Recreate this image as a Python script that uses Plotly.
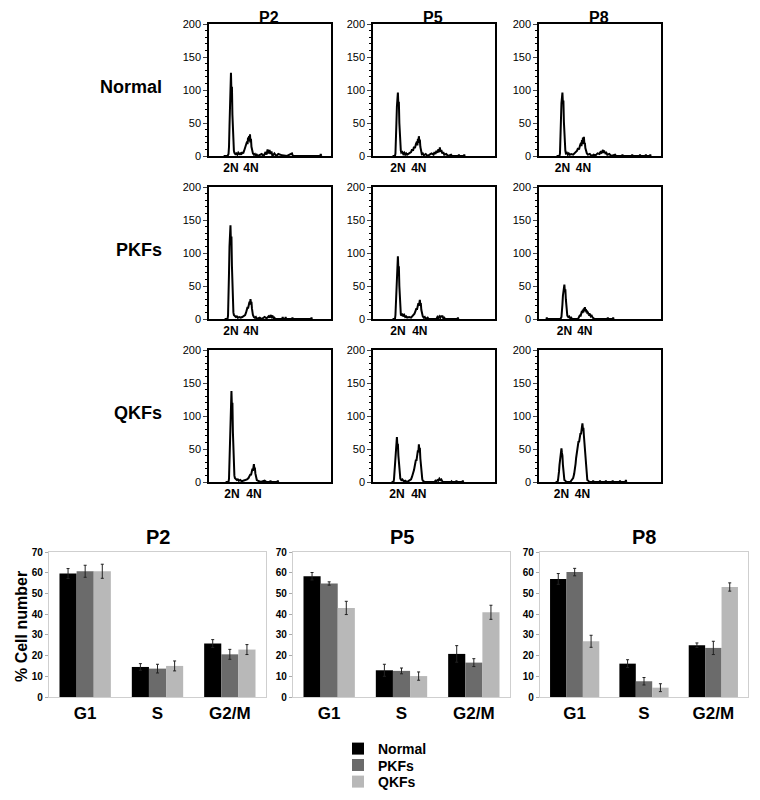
import plotly.graph_objects as go

# The page body has an 8 px default margin, so the figure is 752x792 and
# all screen positions below are converted by subtracting that offset.
OFF = 8
W, H = 760 - OFF, 800 - OFF

# ---------------- DATA ----------------
PASSAGES = ["P2", "P5", "P8"]
CELL_LINES = ["Normal", "PKFs", "QKFs"]
PHASES = ["G1", "S", "G2/M"]

# Flow-cytometry DNA histograms: (channel, count) pairs
NORMAL_P2 = [(30,0),(38,0),(40,3),(41,14),(42,45),(43,92),(44,100),(45,126),(46,96),(47,105),(48,62),(49,30),(50,14),(51,8),(52,5),(54,3),(56,4),(58,2),(60,5),(62,3),(64,4),(66,2),(68,6),(70,4),(72,8),(74,12),(76,16),(78,22),(79,18),(80,28),(81,22),(82,30),(83,25),(84,33),(85,20),(86,26),(87,14),(88,10),(89,6),(90,4),(92,2),(94,3),(96,0),(98,2),(100,0),(108,3),(112,0),(116,6),(118,2),(120,10),(122,4),(124,9),(126,3),(128,7),(130,0),(134,4),(138,0),(142,3),(150,1),(160,0),(170,4),(172,0),(228,0),(229,3),(230,0)]
NORMAL_P5 = [(40,0),(45,0),(46,4),(47,18),(48,50),(49,75),(50,85),(51,96),(52,78),(53,82),(54,50),(55,28),(56,14),(57,8),(58,5),(60,6),(62,3),(64,5),(66,2),(68,4),(70,2),(74,4),(78,6),(80,10),(82,8),(84,14),(86,12),(88,18),(90,22),(91,16),(92,26),(93,20),(94,30),(95,22),(96,25),(97,14),(98,10),(99,6),(100,3),(102,4),(104,1),(108,3),(112,0),(116,2),(120,4),(124,2),(126,6),(128,3),(130,8),(132,5),(134,10),(136,6),(137,13),(138,7),(140,9),(142,4),(144,6),(146,2),(150,3),(154,0),(160,2),(162,0),(175,0),(176,2),(177,0),(186,0),(187,2),(188,0)]
NORMAL_P8 = [(36,0),(42,0),(43,4),(44,20),(45,55),(46,80),(47,88),(48,96),(49,80),(50,84),(51,52),(52,28),(53,14),(54,8),(55,4),(57,5),(59,2),(61,4),(63,2),(66,3),(70,2),(74,5),(78,8),(80,12),(82,10),(84,16),(86,20),(87,15),(88,24),(89,18),(90,28),(91,22),(92,29),(93,18),(94,20),(95,12),(96,8),(98,4),(100,2),(104,3),(108,0),(112,2),(116,1),(120,4),(124,3),(126,6),(128,5),(130,8),(131,9),(132,6),(134,7),(136,4),(138,5),(140,2),(144,3),(148,0),(156,2),(158,0),(170,0),(171,2),(172,0),(190,0),(191,2),(192,0),(206,0),(207,2),(208,0),(218,0),(219,2),(220,0),(227,0),(228,2),(229,0)]
PKFS_P2 = [(32,0),(38,0),(39,5),(40,25),(41,70),(42,110),(43,120),(44,142),(45,115),(46,125),(47,80),(48,40),(49,18),(50,10),(51,6),(53,4),(55,3),(57,4),(59,2),(62,3),(65,2),(68,3),(71,4),(74,6),(76,10),(78,14),(79,18),(80,16),(81,22),(82,20),(83,26),(84,22),(85,30),(86,24),(87,26),(88,16),(89,10),(90,6),(92,3),(94,2),(96,3),(98,0),(104,2),(108,0),(114,3),(118,1),(122,4),(124,2),(126,6),(128,3),(130,5),(132,1),(134,2),(136,0),(150,0),(151,3),(152,0),(156,0),(157,3),(158,0),(170,0),(171,2),(172,0),(209,0),(210,2),(211,0)]
PKFS_P5 = [(40,0),(45,0),(46,6),(47,22),(48,55),(49,78),(50,84),(51,95),(52,76),(53,80),(54,50),(55,26),(56,12),(57,7),(58,5),(60,8),(62,4),(64,6),(66,3),(68,4),(70,2),(74,3),(78,2),(82,5),(85,8),(87,12),(89,16),(90,14),(91,20),(92,18),(93,24),(94,20),(95,26),(96,29),(97,22),(98,24),(99,14),(100,10),(101,6),(102,4),(104,2),(106,3),(108,0),(112,2),(114,0),(130,0),(132,3),(134,1),(136,4),(138,2),(140,5),(141,3),(142,5),(144,1),(146,2),(148,0),(173,0),(174,2),(175,0)]
PKFS_P8 = [(15,0),(16,2),(17,0),(44,0),(46,3),(47,10),(48,22),(49,35),(50,44),(51,40),(52,52),(53,42),(54,45),(55,30),(56,18),(57,10),(58,5),(60,3),(62,4),(64,1),(66,2),(68,0),(80,0),(82,3),(84,6),(85,4),(86,9),(87,7),(88,12),(89,9),(90,14),(91,10),(92,16),(93,12),(94,18),(95,13),(96,15),(97,10),(98,13),(99,8),(100,11),(101,7),(102,9),(103,5),(104,8),(106,4),(108,5),(110,2),(112,1),(114,0),(140,0),(141,2),(142,0),(151,0),(152,2),(153,0)]
QKFS_P2 = [(34,0),(40,0),(41,5),(42,30),(43,75),(44,110),(45,118),(46,138),(47,112),(48,120),(49,75),(50,38),(51,18),(52,10),(53,6),(55,4),(57,3),(59,4),(61,2),(64,3),(67,1),(70,2),(74,3),(78,4),(81,6),(83,9),(85,12),(86,10),(87,16),(88,14),(89,20),(90,17),(91,24),(92,27),(93,20),(94,22),(95,13),(96,8),(97,5),(98,3),(100,2),(102,1),(106,0),(114,2),(118,0),(125,0),(126,2),(127,0),(140,0),(141,2),(142,0)]
QKFS_P5 = [(38,0),(42,0),(43,4),(44,14),(45,30),(46,45),(47,55),(48,60),(49,68),(50,55),(51,58),(52,40),(53,26),(54,14),(55,8),(56,5),(58,3),(60,4),(62,2),(64,1),(66,2),(70,0),(74,2),(78,4),(80,8),(82,12),(84,18),(85,22),(86,28),(87,26),(88,34),(89,32),(90,40),(91,38),(92,48),(93,45),(94,57),(95,48),(96,52),(97,36),(98,24),(99,14),(100,8),(101,4),(102,2),(104,1),(106,0),(126,0),(128,2),(130,1),(132,3),(134,2),(136,5),(138,3),(140,4),(142,1),(144,0),(160,0),(161,1),(162,0),(170,0),(171,2),(172,0),(183,0),(184,2),(185,0)]
QKFS_P8 = [(34,0),(38,0),(39,3),(40,8),(41,16),(42,26),(43,34),(44,42),(45,46),(46,51),(47,44),(48,40),(49,26),(50,14),(51,7),(52,3),(54,2),(56,0),(64,0),(66,2),(68,3),(70,6),(72,12),(73,16),(74,22),(75,28),(76,36),(77,42),(78,50),(79,54),(80,58),(81,62),(82,60),(83,68),(84,66),(85,74),(86,72),(87,80),(88,76),(89,89),(90,80),(91,82),(92,70),(93,60),(94,45),(95,32),(96,20),(97,12),(98,6),(99,3),(101,2),(103,0),(110,0),(111,2),(112,0),(124,0),(125,2),(126,0),(136,0),(137,2),(138,0),(150,0),(151,2),(152,0),(165,0),(166,2),(167,0),(177,0),(178,3),(179,0)]

HISTOGRAMS = [[NORMAL_P2, NORMAL_P5, NORMAL_P8],
              [PKFS_P2, PKFS_P5, PKFS_P8],
              [QKFS_P2, QKFS_P5, QKFS_P8]]
# positions of 2N / 4N labels (channel) per row/column
PEAKS_2N_4N = [[(45, 86), (51, 94), (48, 91)],
               [(45, 86), (51, 96), (52, 94)],
               [(47, 92), (49, 94), (46, 89)]]
HIST_YTICKS = [0, 50, 100, 150, 200]

# Bar chart: % cell number per phase
BAR_VALUES = {
    "P2": {"Normal": [59.6, 14.5, 25.8], "PKFs": [60.7, 13.7, 20.6], "QKFs": [60.7, 15.0, 22.9]},
    "P5": {"Normal": [58.3, 12.9, 20.8], "PKFs": [54.8, 12.6, 16.6], "QKFs": [43.0, 10.1, 40.9]},
    "P8": {"Normal": [57.0, 16.1, 25.0], "PKFs": [60.3, 7.6, 23.7], "QKFs": [26.9, 4.5, 53.1]},
}
BAR_ERRORS = {
    "P2": {"Normal": [2.4, 1.6, 1.9], "PKFs": [2.9, 2.1, 2.4], "QKFs": [3.4, 2.4, 2.4]},
    "P5": {"Normal": [1.8, 2.9, 4.0], "PKFs": [0.8, 1.4, 1.9], "QKFs": [3.2, 2.0, 3.4]},
    "P8": {"Normal": [2.6, 1.9, 1.1], "PKFs": [1.8, 1.8, 3.2], "QKFs": [2.9, 1.9, 2.0]},
}
BAR_YTICKS = [0, 10, 20, 30, 40, 50, 60, 70]

# ---------------- STYLE / LAYOUT (screen pixel positions) ----------------
COLORS = {"Normal": "#000000", "PKFs": "#6b6b6b", "QKFs": "#b8b8b8"}
FONT = "Liberation Sans, Arial, sans-serif"
NARROW = "Liberation Sans Narrow, Liberation Sans, Arial, sans-serif"

HIST_COLS = [(209, 331), (373, 495), (539, 661)]
HIST_ROWS = [(24, 156), (187, 319), (350, 482)]
BAR_COLS = [(49, 266), (293, 510), (540, 748)]
BAR_ROW = (552, 697)
LEGEND_ROWS = [749, 765.5, 782]
LEGEND_NAMES = ["legend", "legend2", "legend3"]


def px(sx):
    return (sx - OFF) / W


def py(sy):
    return 1 - (sy - OFF) / H


def xd(a, b):
    return [px(a), px(b)]


def yd(a, b):
    return [py(b), py(a)]


def label(text, sx, sy, size, xanchor="center", angle=0, pad=1):
    return dict(text=f"<b>{text}</b>", x=px(sx), y=py(sy), xref="paper", yref="paper",
                showarrow=False, xanchor=xanchor, yanchor="middle", textangle=angle,
                borderpad=pad, font=dict(family=FONT, size=size, color="black"))


fig = go.Figure()
layout = {}
annotations = []

k = 0
for r in range(3):
    for c in range(3):
        k += 1
        xs = [p[0] for p in HISTOGRAMS[r][c]]
        ys = [p[1] for p in HISTOGRAMS[r][c]]
        fig.add_trace(go.Scatter(x=xs, y=ys, mode="lines",
                                 line=dict(color="black", width=2),
                                 xaxis=f"x{k}", yaxis=f"y{k}",
                                 showlegend=False, hoverinfo="skip"))
        layout[f"xaxis{k}"] = dict(
            domain=xd(*HIST_COLS[c]), anchor=f"y{k}", range=[0, 250],
            showline=True, linecolor="black", linewidth=1.5, mirror=True,
            showgrid=False, zeroline=False, ticks="",
            tickvals=list(PEAKS_2N_4N[r][c]), ticktext=["2N", "4N"],
            tickfont=dict(family=FONT, size=12, color="black", weight="bold"))
        layout[f"yaxis{k}"] = dict(
            domain=yd(*HIST_ROWS[r]), anchor=f"x{k}", range=[0, 200],
            showline=True, linecolor="black", linewidth=1.5, mirror=True,
            showgrid=False, zeroline=False,
            tickvals=HIST_YTICKS, ticks="outside", ticklen=4, tickwidth=1,
            tickfont=dict(family=NARROW, size=11, color="black"),
            minor=dict(ticks="outside", ticklen=2, dtick=10, tickcolor="black"))

for c, (a, b) in enumerate(HIST_COLS):
    annotations.append(label(PASSAGES[c], (a + b) / 2 - 1, 17.6, 16, pad=0))
for r, (a, b) in enumerate(HIST_ROWS):
    annotations.append(label(CELL_LINES[r], 164, (a + b) / 2 - 3, 18, xanchor="right"))

for c, p in enumerate(PASSAGES):
    k += 1
    for i, line in enumerate(CELL_LINES):
        fig.add_trace(go.Bar(
            x=PHASES, y=BAR_VALUES[p][line], name=line,
            marker=dict(color=COLORS[line], line=dict(width=0)),
            error_y=dict(type="data", array=BAR_ERRORS[p][line], color="#222222",
                         thickness=1, width=1.5),
            xaxis=f"x{k}", yaxis=f"y{k}", showlegend=(c == 0),
            legend=LEGEND_NAMES[i]))
    layout[f"xaxis{k}"] = dict(
        domain=xd(*BAR_COLS[c]), anchor=f"y{k}",
        showline=True, linecolor="#cfcfcf", linewidth=1.2, mirror=True,
        showgrid=False, ticks="",
        tickfont=dict(family=FONT, size=17, color="black", weight="bold"))
    layout[f"yaxis{k}"] = dict(
        domain=yd(*BAR_ROW), anchor=f"x{k}", range=[0, 70],
        tickvals=BAR_YTICKS, showline=True, linecolor="#cfcfcf", linewidth=1.2, mirror=True,
        showgrid=False, zeroline=False, ticks="outside", ticklen=3, tickcolor="#aaaaaa",
        tickfont=dict(family=FONT, size=10, color="black", weight="bold"))
    a, b = BAR_COLS[c]
    annotations.append(label(p, (a + b) / 2, 537, 20))

annotations.append(label("% Cell number", 21, 627, 16, angle=-90))

for name, ypx in zip(LEGEND_NAMES, LEGEND_ROWS):
    layout[name] = dict(x=px(338), y=py(ypx), xanchor="left", yanchor="middle",
                        font=dict(family=FONT, size=14, color="black", weight="bold"),
                        itemwidth=30, bgcolor="rgba(0,0,0,0)", borderwidth=0)

fig.update_layout(
    width=W, height=H, margin=dict(l=0, r=0, t=0, b=0, autoexpand=False),
    paper_bgcolor="white", plot_bgcolor="white",
    barmode="group", bargap=0.29, bargroupgap=0,
    annotations=annotations,
    **layout)

fig.write_html("out.html")
